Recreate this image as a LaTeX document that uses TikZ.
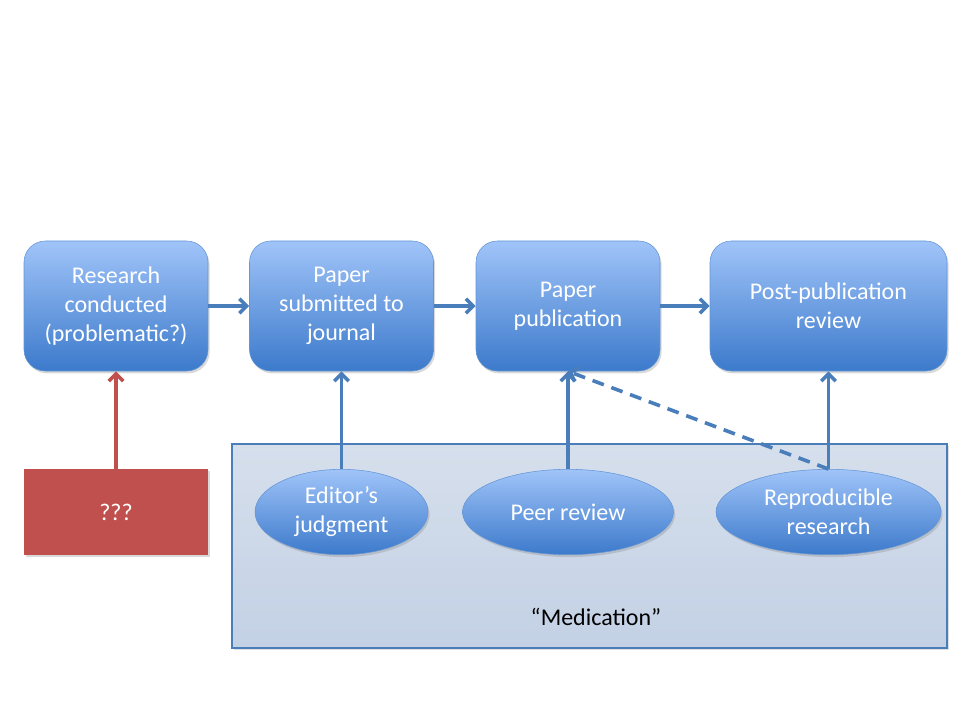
\documentclass[tikz,border=0pt]{standalone}
\usepackage{fontspec}
\setmainfont{Carlito}
\usetikzlibrary{arrows.meta,positioning,shapes.geometric,shadows}
\definecolor{boxtop}{HTML}{A0C4F9}
\definecolor{boxbot}{HTML}{3C7ACB}
\definecolor{arrowblue}{HTML}{4A7EBB}
\definecolor{redfill}{HTML}{C0504D}
\definecolor{medtop}{HTML}{D6DFEC}
\definecolor{medbot}{HTML}{C3D1E5}
\tikzset{>={Straight Barb[length=5.5pt,width=11pt]}}
\tikzset{
  stagebox/.style={rectangle, rounded corners=16pt, draw=boxbot!80, line width=0.4pt,
    top color=boxtop, bottom color=boxbot, text=white, align=center,
    minimum width=138pt, minimum height=97.5pt, inner sep=2pt,
    font=\fontsize{18}{21.75}\selectfont,
    drop shadow={opacity=0.3, shadow xshift=1.2pt, shadow yshift=-1.8pt}},
  checkoval/.style={ellipse, draw=boxbot!80, line width=0.4pt,
    top color=boxtop, bottom color=boxbot, text=white, align=center,
    minimum height=64pt, inner sep=0pt,
    font=\fontsize{18}{21.75}\selectfont,
    drop shadow={opacity=0.3, shadow xshift=1.2pt, shadow yshift=-1.8pt}},
  link/.style={->, color=arrowblue, line width=2.7pt},
}
\begin{document}
\begin{tikzpicture}[x=0.75pt,y=-0.75pt]
	\useasboundingbox (0,0) rectangle (960,720);
	% background panel
	\node[rectangle, draw=arrowblue, line width=0.8pt, top color=medtop, bottom color=medbot,
	  minimum width=536.25pt, minimum height=153pt, inner sep=0pt,
	  drop shadow={opacity=0.25, shadow xshift=1.2pt, shadow yshift=-1.8pt}] (med) at (589.5,546) {};
	\node[font=\fontsize{18}{21.75}\selectfont, text=black] (medlabel) at (596,617) {“Medication”};
	% stages
	\node[stagebox] (research) at (116,306) {Research\\conducted\\(problematic?)};
	\node[stagebox] (submitted) at (341.5,306) {Paper\\submitted to\\journal};
	\node[stagebox] (publication) at (568,306) {Paper\\publication};
	\node[stagebox, minimum width=177.75pt] (postpub) at (828.5,306) {Post-publication\\review};
	\node[rectangle, fill=redfill, text=white, minimum width=138pt, minimum height=64.5pt,
	  font=\fontsize{18}{21.75}\selectfont,
	  drop shadow={opacity=0.3, shadow xshift=1.2pt, shadow yshift=-1.8pt}] (unknown) at (116,512) {???};
	% checks
	\node[checkoval, minimum width=129.75pt] (editor) at (341.5,512) {Editor’s\\judgment};
	\node[checkoval, minimum width=158.25pt] (peer) at (568,512) {Peer review};
	\node[checkoval, minimum width=168.75pt] (repro) at (828.5,512) {Reproducible\\research};
	% connectors
	\draw[link] (research) -- (submitted);
	\draw[link] (submitted) -- (publication);
	\draw[link] (publication) -- (postpub);
	\draw[link, color=redfill] (unknown.north) -- (research.south);
	\draw[link] (editor.north) -- (submitted.south);
	\draw[link] (peer.north) -- (publication.south);
	\draw[link] (repro.north) -- (postpub.south);
	\draw[link, dash pattern=on 9pt off 6pt] (repro.north) -- (publication.south);
\end{tikzpicture}
\end{document}
